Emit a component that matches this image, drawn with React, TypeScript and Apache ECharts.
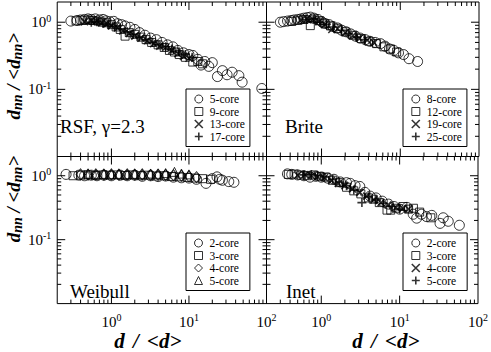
import React, { useEffect, useRef } from 'react';
import * as echarts from 'echarts';

// ---------- data (x = d/<d>, y = d_nn/<d_nn>) ----------
const rsf5: number[][] = [[0.30,1.04],[0.36,1.06],[0.40,1.08],[0.45,1.10],[0.50,1.12],[0.55,1.10],[0.62,1.12],[0.70,1.08],[0.78,1.10],[0.85,1.05],[0.95,1.02],[1.07,1.03],[1.2,0.95],[1.35,0.92],[1.5,0.88],[1.73,0.84],[2.0,0.78],[2.3,0.70],[2.7,0.64],[3.2,0.58],[3.8,0.55],[4.5,0.50],[5.3,0.46],[6.2,0.43],[7.2,0.38],[8.5,0.35],[10,0.33],[11.2,0.32],[13,0.28],[14.3,0.23],[16,0.26],[18,0.22],[20,0.25],[23.3,0.155],[27,0.19],[31,0.165],[36,0.18],[44,0.16],[48.5,0.128],[87,0.103]];
const rsf9: number[][] = [[0.35,1.05],[0.42,1.07],[0.5,1.08],[0.58,1.06],[0.67,1.04],[0.76,1.0],[0.87,0.98],[1.0,0.92],[1.15,0.85],[1.3,0.78],[1.5,0.62],[1.7,0.70],[2.0,0.66],[2.4,0.60],[2.8,0.55],[3.3,0.50],[4.0,0.46],[4.8,0.42],[5.6,0.38],[6.5,0.36],[7.5,0.33],[9.0,0.30],[11.2,0.255],[13,0.26],[15,0.24]];
const rsf13: number[][] = [[0.45,1.02],[0.55,1.06],[0.65,1.04],[0.75,0.98],[0.88,0.95],[1.0,0.88],[1.2,0.82],[1.4,0.74],[1.7,0.68],[2.0,0.62],[2.4,0.58],[2.9,0.53],[3.5,0.48],[4.2,0.44],[5.0,0.42],[6.0,0.38],[7.2,0.34],[8.5,0.31],[10,0.29]];
const rsf17: number[][] = [[0.55,1.0],[0.65,1.02],[0.78,0.96],[0.92,0.92],[1.1,0.86],[1.3,0.80],[1.6,0.72],[1.9,0.66],[2.3,0.60],[2.8,0.55],[3.4,0.50],[4.1,0.46],[5.0,0.43],[6.0,0.40],[7.5,0.36],[9,0.33],[11,0.30]];

const brite8: number[][] = [[0.30,1.0],[0.33,1.02],[0.37,1.04],[0.41,1.06],[0.45,1.08],[0.50,1.10],[0.55,1.12],[0.60,1.15],[0.66,1.17],[0.72,1.19],[0.8,1.15],[0.9,1.10],[1.0,1.02],[1.1,0.96],[1.25,0.92],[1.4,0.86],[1.6,0.82],[1.8,0.76],[2.05,0.72],[2.34,0.67],[2.7,0.62],[3.1,0.58],[3.6,0.55],[4.1,0.52],[4.8,0.50],[5.6,0.48],[6.4,0.44],[7.3,0.40],[8.3,0.38],[9.5,0.35],[11,0.33],[12.9,0.286],[16.6,0.26]];
const brite12: number[][] = [[0.42,1.03],[0.5,1.07],[0.6,1.10],[0.72,0.89],[0.8,1.12],[0.95,1.05],[1.1,0.95],[1.3,0.88],[1.6,0.80],[2.0,0.72],[2.5,0.64],[3.2,0.57],[4.0,0.52],[5.0,0.48],[6.2,0.43],[7.5,0.40],[9,0.36]];
const brite19: number[][] = [[0.55,1.08],[0.65,1.12],[0.78,1.10],[0.92,1.02],[1.1,0.92],[1.35,0.78],[1.6,0.80],[2.0,0.70],[2.5,0.63],[3.0,0.58],[3.8,0.54],[4.6,0.50]];
const brite25: number[][] = [[0.65,1.1],[0.8,1.12],[0.95,1.0],[1.15,0.93],[1.4,0.85],[1.8,0.76],[2.2,0.68],[2.8,0.60],[3.5,0.55]];

const weib2: number[][] = [[0.26,1.05],[0.38,1.02],[0.45,1.0],[0.55,1.02],[0.65,1.0],[0.8,1.02],[1.0,1.0],[1.3,1.02],[1.6,1.0],[2.0,1.02],[2.5,0.98],[3.2,1.0],[4.0,0.97],[5.0,0.99],[6.3,0.95],[8,0.93],[10,0.92],[12.5,0.88],[16.6,0.76],[20,0.90],[23,0.96],[25,0.88],[27,0.85],[32.6,0.81],[38,0.79]];
const weib3: number[][] = [[0.32,1.0],[0.4,1.02],[0.5,1.03],[0.62,1.01],[0.78,1.03],[0.95,1.02],[1.2,1.03],[1.5,1.01],[1.9,1.03],[2.4,1.0],[3.0,1.02],[3.8,0.99],[4.8,1.0],[6,0.97],[7.5,0.96],[9.5,0.94],[12,0.92],[15,0.90],[19,0.88]];
const weib4: number[][] = [[0.4,1.05],[0.5,1.04],[0.63,1.05],[0.8,1.04],[1.0,1.05],[1.25,1.04],[1.6,1.05],[2.0,1.04],[2.5,1.05],[3.2,1.03],[4.0,1.04],[5.0,1.03],[6.3,1.02],[8,1.0],[10,0.98],[12.5,0.95]];
const weib5: number[][] = [[0.5,1.07],[0.63,1.06],[0.8,1.07],[1.0,1.06],[1.25,1.07],[1.6,1.06],[2.0,1.07],[2.5,1.06],[3.2,1.08],[4.0,1.07],[5.0,1.1],[6.5,1.15],[8,1.08],[10,1.05]];

const inet2: number[][] = [[0.37,1.07],[0.42,1.05],[0.5,1.03],[0.6,1.0],[0.72,0.95],[0.85,0.98],[1.0,0.95],[1.2,0.92],[1.45,0.88],[1.75,0.80],[2.1,0.78],[2.34,0.76],[2.7,0.70],[3.1,0.68],[3.6,0.55],[4.2,0.48],[5.0,0.45],[6.0,0.40],[7.2,0.36],[8.5,0.33],[10,0.30],[12.4,0.32],[14.9,0.25],[16.5,0.217],[19,0.25],[22,0.23],[25.7,0.24],[32.8,0.18],[36,0.22],[41.7,0.194],[57.8,0.168]];
const inet3: number[][] = [[0.38,1.05],[0.45,1.06],[0.55,1.02],[0.66,1.0],[0.8,1.03],[0.95,0.98],[1.15,0.95],[1.4,0.85],[1.7,0.78],[2.1,0.66],[2.6,0.58],[3.2,0.52],[4.0,0.45],[4.6,0.43],[5.5,0.38],[6.9,0.29],[7.7,0.29],[9,0.31],[11,0.33],[13,0.30],[15,0.31],[18,0.27],[25,0.22]];
const inet4: number[][] = [[0.5,1.02],[0.62,1.04],[0.75,1.0],[0.9,0.97],[1.1,0.93],[1.35,0.84],[1.65,0.76],[2.0,0.70],[2.5,0.62],[3.1,0.55],[3.8,0.48],[4.7,0.42],[5.8,0.38],[7.1,0.35],[9,0.32],[11,0.31],[13,0.30]];
const inet5: number[][] = [[0.6,1.03],[0.75,1.05],[0.9,1.0],[1.1,0.96],[1.4,0.88],[1.7,0.80],[2.1,0.70],[2.6,0.60],[3.3,0.38],[4.0,0.47],[5.0,0.42],[6.2,0.37],[8,0.33],[10,0.30]];

const panelNames = ['RSF, γ=2.3', 'Brite', 'Weibull', 'Inet'];
const legendNames = [
  ['5-core', '9-core', '13-core', '17-core'],
  ['8-core', '12-core', '19-core', '25-core'],
  ['2-core', '3-core', '4-core', '5-core'],
  ['2-core', '3-core', '4-core', '5-core'],
];
const panelData = [
  [rsf5, rsf9, rsf13, rsf17],
  [brite8, brite12, brite19, brite25],
  [weib2, weib3, weib4, weib5],
  [inet2, inet3, inet4, inet5],
];
const panelSymbols = [
  ['circle', 'square', 'cross', 'plus'],
  ['circle', 'square', 'cross', 'plus'],
  ['circle', 'square', 'diamond', 'triangle'],
  ['circle', 'square', 'cross', 'plus'],
];

const X_MIN = 0.2, X_MAX = 100, Y_MIN = 0.01, Y_MAX = 2;
const xMajorTicks = [1, 10];
const xMinorTicks = [0.3, 0.4, 0.5, 0.6, 0.7, 0.8, 0.9, 2, 3, 4, 5, 6, 7, 8, 9, 20, 30, 40, 50, 60, 70, 80, 90];
const yMajorTicks = [0.1, 1];
const yMinorTicks = [0.02, 0.03, 0.04, 0.05, 0.06, 0.07, 0.08, 0.09, 0.2, 0.3, 0.4, 0.5, 0.6, 0.7, 0.8, 0.9];

const FONT = 'Liberation Serif';

const symbolDefs: Record<string, { symbol: string; size: number | number[]; lw: number; icon: string }> = {
  circle: { symbol: 'circle', size: 10, lw: 1, icon: 'circle' },
  square: { symbol: 'rect', size: 8, lw: 1, icon: 'rect' },
  cross: { symbol: 'path://M0,0L10,10M10,0L0,10', size: 7, lw: 1.6, icon: 'path://M0,0L10,10M10,0L0,10' },
  plus: { symbol: 'path://M5,0L5,10M0,5L10,5', size: 9, lw: 1.6, icon: 'path://M5,0L5,10M0,5L10,5' },
  diamond: { symbol: 'diamond', size: [9, 11], lw: 1, icon: 'diamond' },
  triangle: { symbol: 'triangle', size: 9, lw: 1, icon: 'triangle' },
};

const grids = [
  { left: 54, top: 2 },
  { left: 266.5, top: 2 },
  { left: 54, top: 156.5 },
  { left: 266.5, top: 156.5 },
];
const legendPos = [
  { left: 186, top: 89 },
  { left: 403, top: 89 },
  { left: 186, top: 233 },
  { left: 403, top: 233 },
];
const panelLabelPos = [
  { x: 60, y: 126 },
  { x: 285, y: 126 },
  { x: 70, y: 291 },
  { x: 286, y: 291 },
];

const expLabel = (hide: number[]) => (v: number) => {
  const e = Math.log10(v);
  const r = Math.round(e);
  if (Math.abs(e - r) > 1e-6 || hide.includes(r)) return '';
  return `{b|10}{s|${r}}`;
};
const labelRich = {
  b: { fontSize: 15, fontFamily: FONT, color: '#000', lineHeight: 18 },
  s: { fontSize: 10, fontFamily: FONT, color: '#000', lineHeight: 10, verticalAlign: 'top' },
};
const titleRich = {
  d: { fontSize: 19, fontFamily: FONT, fontWeight: 'bold', fontStyle: 'italic', color: '#000', lineHeight: 20, verticalAlign: 'top' },
  n: { fontSize: 14, fontFamily: FONT, fontWeight: 'bold', fontStyle: 'italic', color: '#000', lineHeight: 14, verticalAlign: 'bottom', padding: [9, 0, 0, 0] },
  x: { fontSize: 21, fontFamily: FONT, fontWeight: 'bold', fontStyle: 'italic', color: '#000', lineHeight: 22 },
  g: { fontSize: 21, fontFamily: FONT, fontWeight: 'bold', fontStyle: 'italic', color: '#000', lineHeight: 22, padding: [0, 3, 0, 3] },
};

const tickData: number[][] = [
  ...xMajorTicks.map((v) => [v, 1, 1, 0]),
  ...xMinorTicks.map((v) => [v, 1, 0, 0]),
  ...yMajorTicks.map((v) => [1, v, 1, 1]),
  ...yMinorTicks.map((v) => [1, v, 0, 1]),
];

const renderTicks = (params: any, api: any) => {
  const cs = params.coordSys;
  const isY = api.value(3) === 1;
  const len = api.value(2) === 1 ? 8 : 4;
  const p = api.coord([api.value(0), api.value(1)]);
  const st = { stroke: '#000', lineWidth: 1 };
  if (!isY) {
    const x = p[0];
    return {
      type: 'group',
      children: [
        { type: 'line', shape: { x1: x, y1: cs.y + cs.height, x2: x, y2: cs.y + cs.height - len }, style: st },
        { type: 'line', shape: { x1: x, y1: cs.y, x2: x, y2: cs.y + len }, style: st },
      ],
    };
  }
  const y = p[1];
  return {
    type: 'group',
    children: [
      { type: 'line', shape: { x1: cs.x, y1: y, x2: cs.x + len, y2: y }, style: st },
      { type: 'line', shape: { x1: cs.x + cs.width, y1: y, x2: cs.x + cs.width - len, y2: y }, style: st },
    ],
  };
};

export default function App() {
  const ref = useRef<HTMLDivElement>(null);
  useEffect(() => {
    if (!ref.current) return;
    const chart = echarts.init(ref.current, undefined, { renderer: 'svg' });
    const series: any[] = [];
    const legends: any[] = [];
    for (let i = 0; i < 4; i++) {
      const legendData: any[] = [];
      panelData[i].forEach((data, k) => {
        const def = symbolDefs[panelSymbols[i][k]];
        const name = `p${i}|${legendNames[i][k]}`;
        const style = { color: 'transparent', borderColor: '#000', borderWidth: def.lw };
        series.push({
          type: 'scatter',
          name,
          xAxisIndex: i,
          yAxisIndex: i,
          data,
          symbol: def.symbol,
          symbolSize: def.size,
          itemStyle: style,
          silent: true,
          z: 3,
        });
        legendData.push({ name, icon: def.icon, itemStyle: { color: 'transparent', borderColor: '#000', borderWidth: def.lw } });
      });
      series.push({
        type: 'custom',
        xAxisIndex: i,
        yAxisIndex: i,
        data: tickData,
        renderItem: renderTicks,
        silent: true,
        z: 4,
      });
      const shortLabels = i >= 2;
      legends.push({
        ...legendPos[i],
        orient: 'vertical',
        data: legendData,
        formatter: (n: string) => n.split('|')[1],
        itemWidth: 8,
        itemHeight: 8,
        itemGap: 0.5,
        padding: [4, shortLabels ? 11 : 5, 4, 8],
        borderColor: '#000',
        borderWidth: 1,
        backgroundColor: '#fff',
        selectedMode: false,
        symbolKeepAspect: true,
        textStyle: { fontFamily: FONT, fontSize: 11.5, color: '#000', lineHeight: 11.5, padding: [0, 0, 0, 2] },
        z: 10,
      });
    }

    const xAxes = grids.map((_, i) => ({
      type: 'log',
      logBase: 10,
      gridIndex: i,
      min: X_MIN,
      max: X_MAX,
      axisLine: { show: false },
      axisTick: { show: false },
      splitLine: { show: false },
      axisLabel: { show: i >= 2, formatter: expLabel([-1]), rich: labelRich, margin: 9, showMinLabel: false, fontFamily: FONT },
      name: i >= 2 ? '{x|d}{g| / }{x|<d>}' : '',
      nameLocation: 'middle',
      nameGap: 22,
      nameTextStyle: { fontFamily: FONT, rich: titleRich, padding: i === 2 ? [0, 28, 0, 0] : [0, 0, 0, 27] },
    }));
    const yAxes = grids.map((_, i) => ({
      type: 'log',
      logBase: 10,
      gridIndex: i,
      min: Y_MIN,
      max: Y_MAX,
      axisLine: { show: false },
      axisTick: { show: false },
      splitLine: { show: false },
      axisLabel: { show: i % 2 === 0, formatter: expLabel([-2]), rich: labelRich, margin: 6, showMaxLabel: false, fontFamily: FONT },
      name: i % 2 === 0 ? '{d|d}{n|nn}{d| / <d}{n|nn}{d|>}' : '',
      nameLocation: 'middle',
      nameRotate: 90,
      nameGap: 26,
      nameTextStyle: { fontFamily: FONT, rich: titleRich, padding: i === 2 ? [0, 0, 0, 62] : [0, 0, 0, 6] },
    }));

    chart.setOption({
      animation: false,
      grid: grids.map((g) => ({
        ...g,
        width: 212.5,
        height: 154.5,
        show: true,
        borderColor: '#000',
        borderWidth: 1,
        backgroundColor: 'transparent',
        containLabel: false,
      })),
      xAxis: xAxes,
      yAxis: yAxes,
      legend: legends,
      series,
      graphic: panelNames.map((t, i) => ({
        type: 'text',
        x: panelLabelPos[i].x,
        y: panelLabelPos[i].y,
        silent: true,
        style: { text: t, fontFamily: FONT, fontSize: 19, fill: '#000', verticalAlign: 'middle', align: 'left' },
        z: 20,
      })),
    });
    return () => chart.dispose();
  }, []);
  return <div ref={ref} style={{ position: 'fixed', left: 0, top: 0, width: 491, height: 352, background: '#fff' }} />;
}
